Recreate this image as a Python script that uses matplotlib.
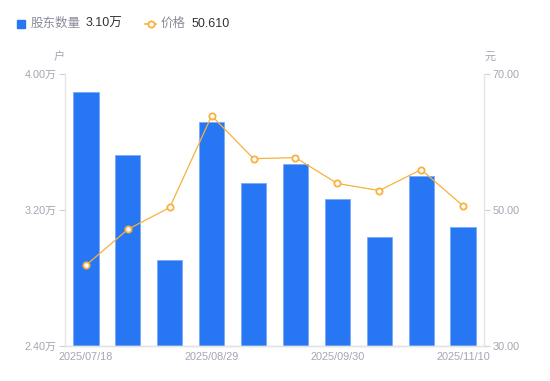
import matplotlib.pyplot as plt
from matplotlib.lines import Line2D
from matplotlib.patches import Rectangle

plt.rcParams['font.family'] = ['Liberation Sans', 'Noto Sans CJK SC', 'DejaVu Sans']

# datos
fechas = ['2025/07/18', '', '', '2025/08/29', '', '', '2025/09/30', '', '', '2025/11/10']
accionistas = [38950, 35230, 29040, 37190, 33560, 34730, 32620, 30400, 33970, 31000]
precios = [41.87, 47.15, 50.37, 63.85, 57.55, 57.70, 53.90, 52.86, 55.94, 50.61]

azul = '#2777f5'
naranja = '#f8b13a'
gris = '#a3a5b3'
linea_eje = '#e3e4e8'

fig = plt.figure(figsize=(5.5, 3.81), dpi=100)
ax = fig.add_axes([0.1182, 0.0919, 0.7618, 0.7139])
ax2 = ax.twinx()

x = range(len(accionistas))
ax.bar(x, accionistas, width=0.6, color=azul, edgecolor='#7aaaf8', linewidth=0.6, zorder=2)
ax.set_xlim(-0.5, len(accionistas) - 0.5)
ax.set_ylim(24000, 40000)
ax.set_yticks([24000, 32000, 40000])
ax.set_yticklabels(['2.40万', '3.20万', '4.00万'])

ax2.plot(x, precios, color=naranja, linewidth=0.9, marker='o', markersize=4.5,
         markerfacecolor='white', markeredgecolor=naranja, markeredgewidth=1.3, zorder=3)
ax2.set_ylim(30, 70)
ax2.set_yticks([30, 50, 70])
ax2.set_yticklabels(['30.00', '50.00', '70.00'])

ax.set_xticks(list(x))
ax.set_xticklabels(fechas)

for a in (ax, ax2):
    a.spines['top'].set_visible(False)
    for s in ('left', 'right', 'bottom'):
        a.spines[s].set_color(linea_eje)
        a.spines[s].set_linewidth(1)
    a.tick_params(colors=gris, labelsize=7.8, length=0)
ax.spines['right'].set_visible(False)
ax2.spines['left'].set_visible(False)
ax.tick_params(axis='y', length=4, width=0.8, color='#d0d2d8', pad=2)
ax2.tick_params(axis='y', length=4, width=0.8, color='#d0d2d8', pad=2)
ax.tick_params(axis='x', pad=4)

# unidades
fig.text(59 / 550, 1 - 57 / 381, '户', color=gris, fontsize=8, ha='center', va='center')
fig.text(490 / 550, 1 - 57 / 381, '元', color=gris, fontsize=8, ha='center', va='center')

# leyenda manual
fig.patches.append(Rectangle((17 / 550, 1 - 28 / 381), 8 / 550, 8 / 381,
                             transform=fig.transFigure, color=azul, figure=fig))
fig.text(31 / 550, 1 - 24 / 381, '股东数量', color='#8a8c99', fontsize=9, va='center')
fig.text(86 / 550, 1 - 24 / 381, '3.10万', color='#333333', fontsize=9, va='center')
fig.lines.append(Line2D([145 / 550, 156 / 550], [1 - 24 / 381, 1 - 24 / 381],
                        transform=fig.transFigure, color=naranja, linewidth=1.2))
fig.lines.append(Line2D([150.5 / 550], [1 - 24 / 381], transform=fig.transFigure,
                        color=naranja, marker='o', markersize=4.5, markerfacecolor='white',
                        markeredgewidth=1.3, linestyle='none'))
fig.text(161 / 550, 1 - 24 / 381, '价格', color='#8a8c99', fontsize=9, va='center')
fig.text(192 / 550, 1 - 24 / 381, '50.610', color='#333333', fontsize=9, va='center')

plt.savefig('out.png', dpi=100)
